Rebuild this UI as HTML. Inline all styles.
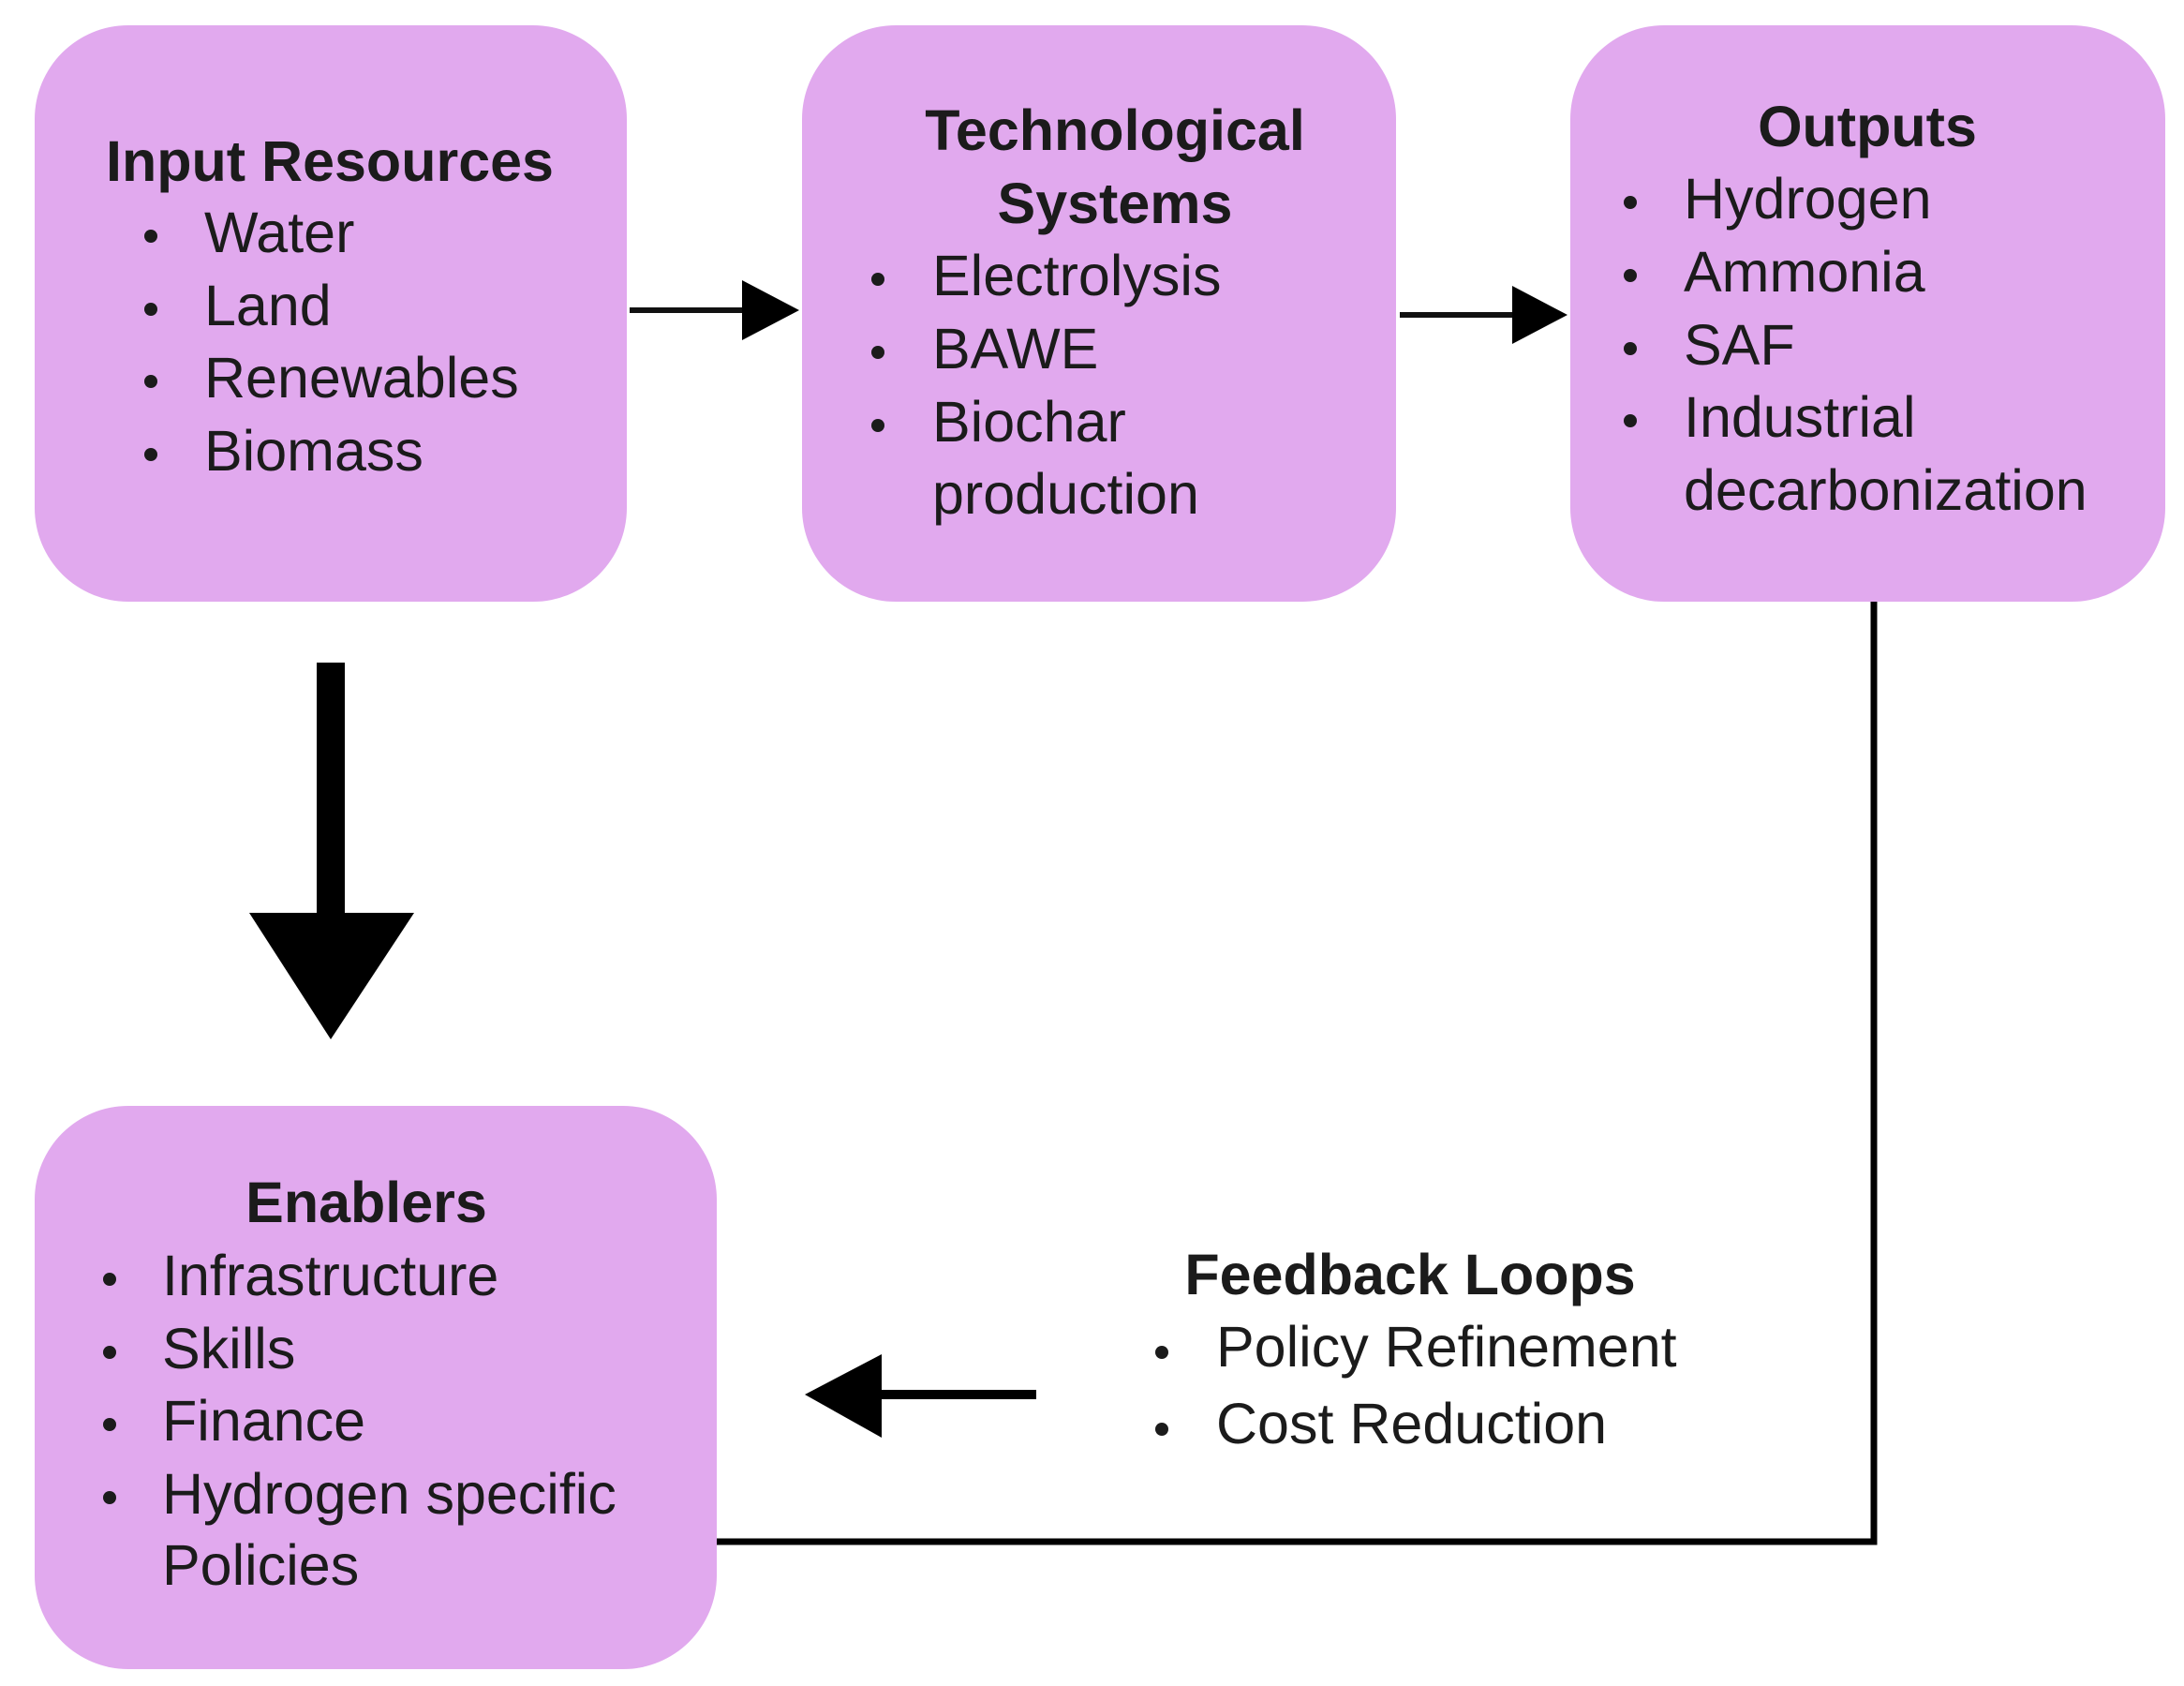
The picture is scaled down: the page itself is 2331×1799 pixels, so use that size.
<!DOCTYPE html>
<html><head><meta charset="utf-8"><style>
html,body{margin:0;padding:0;background:#fff}
body{width:2331px;height:1799px;position:relative;overflow:hidden;font-family:"Liberation Sans",sans-serif;color:#1b1b1b}
.box{position:absolute;background:#e1a9ee;border-radius:100px}
.t{position:absolute;font-size:61px;line-height:78px;white-space:nowrap;transform:translateY(-39px)}
.b{font-weight:bold}
.c{transform:translate(-50%,-39px)}
.d{position:absolute;width:14px;height:14px;border-radius:50%;background:#1b1b1b;transform:translate(-50%,-50%)}
</style></head><body>
<div class="box" style="left:37px;top:27px;width:632px;height:615px"></div>
<div class="box" style="left:856px;top:27px;width:634px;height:615px"></div>
<div class="box" style="left:1676px;top:27px;width:635px;height:615px"></div>
<div class="box" style="left:37px;top:1180px;width:728px;height:601px"></div>

<svg width="2331" height="1799" style="position:absolute;left:0;top:0">
<line x1="672" y1="331" x2="795" y2="331" stroke="#111" stroke-width="6"/>
<polygon points="792,299 853,331 792,363" fill="#000"/>
<line x1="1494" y1="336" x2="1617" y2="336" stroke="#111" stroke-width="6"/>
<polygon points="1614,305 1673,336 1614,367" fill="#000"/>
<rect x="338" y="707" width="30" height="270" fill="#000"/>
<polygon points="266,974 442,974 353,1109" fill="#000"/>
<polyline points="2000,642 2000,1645 765,1645" fill="none" stroke="#000" stroke-width="7"/>
<line x1="1106" y1="1488" x2="935" y2="1488" stroke="#000" stroke-width="10"/>
<polygon points="859,1488 941,1445 941,1534" fill="#000"/>
</svg>

<div class="t b c" style="left:352px;top:172px">Input Resources</div>
<div class="d" style="left:161px;top:252px"></div><div class="t" style="left:218px;top:248px">Water</div>
<div class="d" style="left:161px;top:330px"></div><div class="t" style="left:218px;top:326px">Land</div>
<div class="d" style="left:161px;top:407px"></div><div class="t" style="left:218px;top:403px">Renewables</div>
<div class="d" style="left:161px;top:485px"></div><div class="t" style="left:218px;top:481px">Biomass</div>

<div class="t b c" style="left:1190px;top:139px">Technological</div>
<div class="t b c" style="left:1190px;top:217px">Systems</div>
<div class="d" style="left:937px;top:298px"></div><div class="t" style="left:995px;top:294px">Electrolysis</div>
<div class="d" style="left:937px;top:376px"></div><div class="t" style="left:995px;top:372px">BAWE</div>
<div class="d" style="left:937px;top:454px"></div><div class="t" style="left:995px;top:450px">Biochar</div>
<div class="t" style="left:995px;top:527px">production</div>

<div class="t b c" style="left:1993px;top:135px">Outputs</div>
<div class="d" style="left:1740px;top:216px"></div><div class="t" style="left:1797px;top:212px">Hydrogen</div>
<div class="d" style="left:1740px;top:294px"></div><div class="t" style="left:1797px;top:290px">Ammonia</div>
<div class="d" style="left:1740px;top:372px"></div><div class="t" style="left:1797px;top:368px">SAF</div>
<div class="d" style="left:1740px;top:449px"></div><div class="t" style="left:1797px;top:445px">Industrial</div>
<div class="t" style="left:1797px;top:523px">decarbonization</div>

<div class="t b c" style="left:391px;top:1283px">Enablers</div>
<div class="d" style="left:117px;top:1365px"></div><div class="t" style="left:173px;top:1361px">Infrastructure</div>
<div class="d" style="left:117px;top:1443px"></div><div class="t" style="left:173px;top:1439px">Skills</div>
<div class="d" style="left:117px;top:1520px"></div><div class="t" style="left:173px;top:1516px">Finance</div>
<div class="d" style="left:117px;top:1598px"></div><div class="t" style="left:173px;top:1594px">Hydrogen specific</div>
<div class="t" style="left:173px;top:1670px">Policies</div>

<div class="t b c" style="left:1505px;top:1360px">Feedback Loops</div>
<div class="d" style="left:1240px;top:1443px"></div><div class="t" style="left:1298px;top:1437px">Policy Refinement</div>
<div class="d" style="left:1240px;top:1525px"></div><div class="t" style="left:1298px;top:1519px">Cost Reduction</div>
</body></html>
